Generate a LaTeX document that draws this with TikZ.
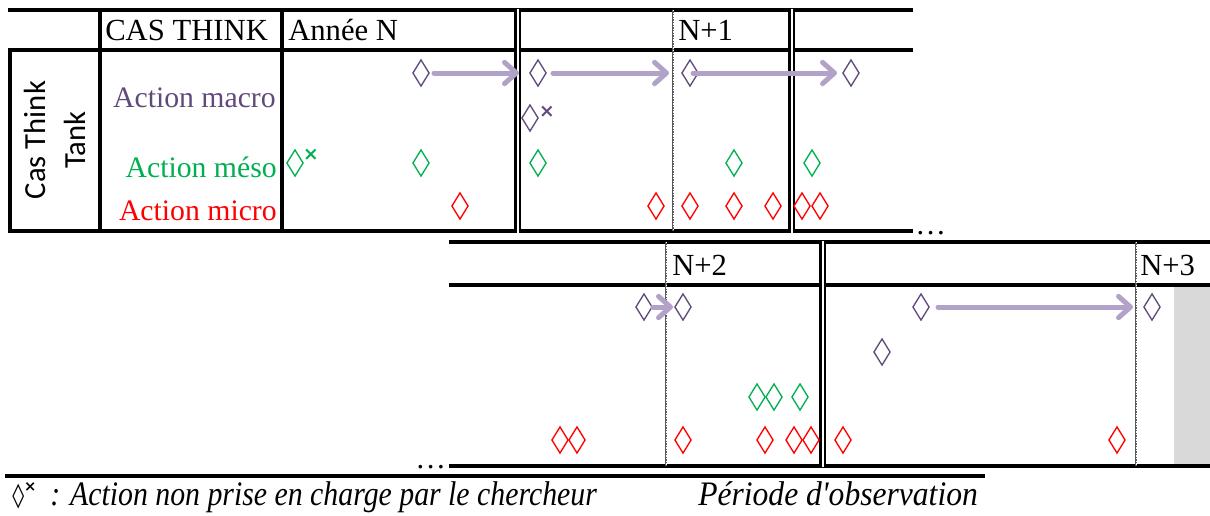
\documentclass[tikz,border=0pt]{standalone}
\usepackage{fontspec}
\setmainfont{Liberation Serif}
\newfontfamily\calib{Carlito}
\newfontfamily\dvs{DejaVu Sans}
\usetikzlibrary{shapes.geometric,arrows.meta}
\definecolor{mpurple}{HTML}{604A7B}
\definecolor{mlav}{HTML}{B3A2C7}
\definecolor{mgreen}{HTML}{00B050}
\definecolor{mred}{HTML}{FF0000}
\definecolor{obsgray}{HTML}{D9D9D9}
\tikzset{
  dia/.style={diamond, minimum width=12.5pt, minimum height=20pt, inner sep=0pt, line width=1pt},
  macro/.style={dia, draw=mpurple},
  meso/.style={dia, draw=mgreen},
  micro/.style={dia, draw=mred},
  thk/.style={line width=3pt},
  thn/.style={line width=2.4pt},
  dbl/.style={draw=black, line width=2.2pt, double=white, double distance=1.5pt},
  obs/.style={draw=black!65, line width=1.8pt},
  obsdot/.style={draw=white, line width=0.6pt, dash pattern=on 1pt off 1pt},
  arr/.style={draw=mlav, line width=3.75pt, line cap=round, -{Straight Barb[length=9pt,width=16pt,round]}},
  lab/.style={inner sep=0pt, font=\fontsize{23}{27}\selectfont},
  act/.style={inner sep=0pt, font=\fontsize{22.3}{27}\selectfont},
  leg/.style={inner sep=0pt, font=\itshape\fontsize{23}{27}\selectfont},
  crs/.style={inner sep=0pt, font=\dvs\bfseries\fontsize{14}{14}\selectfont},
}
\begin{document}
\begin{tikzpicture}[x=0.75pt, y=-0.75pt]
\useasboundingbox (0,0) rectangle (1210,515);
% grey observation area
\fill[obsgray] (1174,287) rectangle (1210,464);
% ---------- top table ----------
\draw[thk] (8,10) -- (913,10);
\draw[thk] (8,50) -- (913,50);
\draw[thk] (8,231) -- (913,231);
\draw[thk] (10,48.5) -- (10,232.5);
\draw[thk] (100,8.5) -- (100,232.5);
\draw[thk] (282,8.5) -- (282,232.5);
\draw[obs] (673,10) -- (673,231);
\draw[obsdot] (673,10) -- (673,231);
\draw[dbl] (517.5,8.5) -- (517.5,232.5);
\draw[dbl] (791.5,8.5) -- (791.5,232.5);
\node[lab, anchor=base west] (cas) at (105,40) {CAS THINK};
\node[lab, anchor=base west] (an) at (288,40) {Année N};
\node[lab, anchor=base west] (n1) at (678,40) {N+1};
\node[inner sep=0pt, rotate=90, align=center, font=\calib\fontsize{23}{30}\selectfont] (ctt) at (55,140) {Cas Think\\Tank};
\node[act, anchor=base east, text=mpurple] (lmacro) at (276,107) {Action macro};
\node[act, anchor=base east, text=mgreen] (lmeso) at (277,177) {Action méso};
\node[act, anchor=base east, text=mred] (lmicro) at (277,220) {Action micro};
\node[lab, anchor=base west] (dots1) at (915,234) {…};
% top diamonds
\node[macro] (mA1) at (421,73) {};
\node[macro] (mA2) at (538,73) {};
\node[macro] (mA3) at (690,73) {};
\node[macro] (mA4) at (851,73) {};
\node[macro] (mB1) at (530,118) {};
\node[crs, text=mpurple] (xB1) at (547,112) {×};
\node[meso] (sA1) at (295,163) {};
\node[crs, text=mgreen] (xA1) at (311,155) {×};
\node[meso] (sA2) at (421,163) {};
\node[meso] (sA3) at (538,163) {};
\node[meso] (sA4) at (734,163) {};
\node[meso] (sA5) at (812,163) {};
\node[micro] (iA1) at (460,206) {};
\node[micro] (iA2) at (656,206) {};
\node[micro] (iA3) at (690,206) {};
\node[micro] (iA4) at (734,206) {};
\node[micro] (iA5) at (773,206) {};
\node[micro] (iA6) at (802,206) {};
\node[micro] (iA7) at (820,206) {};
\draw[arr] ([xshift=3pt]mA1.east) -- ([xshift=-7.5pt]mA2.west);
\draw[arr] ([xshift=4.5pt]mA2.east) -- ([xshift=-9pt]mA3.west);
\draw[arr] ([xshift=2.25pt]mA3.center) -- ([xshift=-3.75pt]mA4.west);
% ---------- bottom table ----------
\draw[thn] (449,242) -- (1210,242);
\draw[thk] (449,285) -- (1210,285);
\draw[thk] (449,466) -- (1210,466);
\draw[obs] (666,242) -- (666,466);
\draw[obsdot] (666,242) -- (666,466);
\draw[obs] (1136,242) -- (1136,466);
\draw[obsdot] (1136,242) -- (1136,466);
\draw[dbl] (822.5,241) -- (822.5,467);
\node[lab, anchor=base west] (n2) at (672,275) {N+2};
\node[lab, anchor=base west] (n3) at (1140,275) {N+3};
\node[lab, anchor=base west] (dots2) at (415,468) {…};
\node[macro] (mC1) at (644,307) {};
\node[macro] (mC2) at (683,307) {};
\node[macro] (mC3) at (921,307) {};
\node[macro] (mC4) at (1152,307) {};
\node[macro] (mD1) at (882,352) {};
\node[meso] (sC1) at (757,397) {};
\node[meso] (sC2) at (774,397) {};
\node[meso] (sC3) at (800,397) {};
\node[micro] (iC1) at (560,440) {};
\node[micro] (iC2) at (577,440) {};
\node[micro] (iC3) at (683,440) {};
\node[micro] (iC4) at (765,440) {};
\node[micro] (iC5) at (794,440) {};
\node[micro] (iC6) at (811,440) {};
\node[micro] (iC7) at (843,440) {};
\node[micro] (iC8) at (1117,440) {};
\draw[arr] (mC1.east) -- ([xshift=-0.75pt]mC2.west);
\draw[arr] ([xshift=6pt]mC3.east) -- ([xshift=-7.5pt]mC4.west);
% ---------- legend ----------
\draw[thn] (5,476) -- (985,476);
\node[inner sep=0pt, anchor=base west, font=\dvs\fontsize{18}{20}\selectfont] (lsym) at (12,503) {◊\raisebox{0.5em}{\bfseries\fontsize{11}{11}\selectfont ×}};
\node[leg, anchor=base west] (leg1) at (50,505) {\scalebox{0.972}[1.12]{: Action non prise en charge par le chercheur}};
\node[leg, anchor=base west] (leg2) at (698,505) {\scalebox{1.03}[1.12]{Période d\textquotesingle observation}};
\end{tikzpicture}
\end{document}
